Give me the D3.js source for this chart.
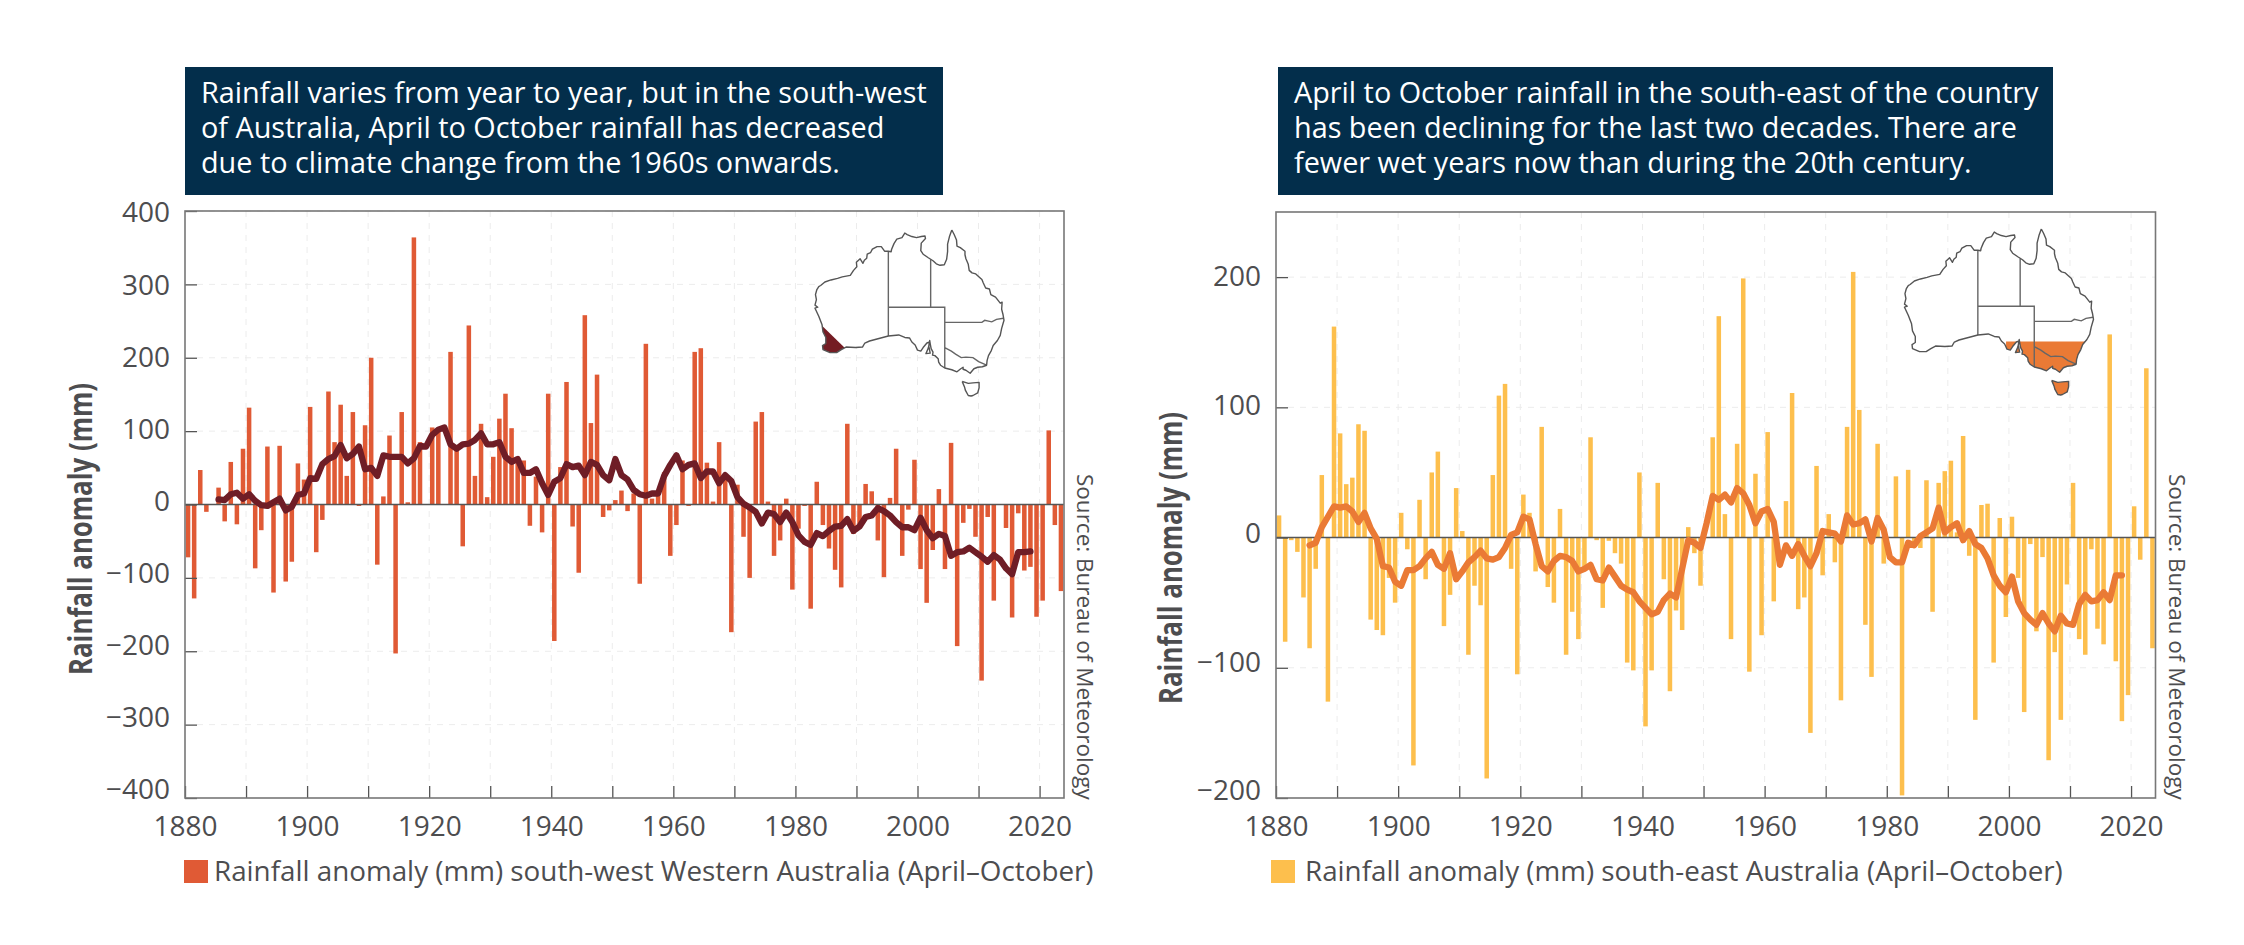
<!DOCTYPE html>
<html>
<head>
<meta charset="utf-8">
<script src="https://cdn.jsdelivr.net/npm/d3@7"></script>
<style>
  html, body { margin: 0; background: #fff; }
  svg { display: block; font-family: "Open Sans", sans-serif; }
</style>
</head>
<body>
<svg id="chart" width="2244" height="945"></svg>
<script>
// first year of each row is the decade start
const swBars = [
  -72,-128,47,-10,0,23,-23,58,-27,76,
  132,-87,-35,79,-120,80,-105,-78,56,34,
  133,-65,-21,154,85,136,39,126,-2,108,
  200,-82,11,94,-203,126,3,364,85,0,
  105,100,0,208,74,-57,244,39,110,10,
  65,117,151,104,65,60,-29,38,-38,151,
  -186,51,167,-30,-93,258,111,177,-17,-8,
  6,19,-9,15,-108,219,8,15,44,-70,
  -28,60,-2,208,213,57,4,85,40,-174,
  27,-44,-100,113,126,4,-70,-49,8,-116,
  -33,-2,-142,31,-28,-60,-89,-113,110,-40,
  -30,28,18,-49,-99,9,76,-70,-7,61,
  -88,-134,-62,21,-88,84,-193,-25,-6,-44,
  -240,-17,-131,0,-32,-154,-12,-90,-85,-153,
  -131,101,-28,-118
];
// running mean, 1885 to 2018
const swLine = [
  7,6,14,16,8,
  14,5,-1,-2,3,8,-8,-3,13,15,
  36,35,55,62,66,81,63,69,79,48,
  50,39,67,65,65,65,56,63,80,79,
  95,102,105,82,76,82,83,88,97,82,
  82,85,65,58,62,43,43,48,29,13,
  31,36,55,51,53,40,58,54,40,33,
  62,40,34,20,14,12,15,15,39,54,
  67,48,54,56,36,45,45,29,40,32,
  10,1,-4,-10,-26,-11,-13,-24,-11,-24,
  -42,-51,-55,-39,-43,-36,-30,-29,-20,-36,
  -30,-17,-15,-5,-9,-15,-24,-31,-31,-35,
  -18,-35,-46,-40,-43,-70,-65,-64,-59,-65,
  -71,-78,-69,-75,-87,-95,-65,-65,-64
];
const seBars = [
  17,-80,-2,-11,-46,-85,-24,48,-126,162,
  80,41,46,87,82,-63,-71,-75,-31,-50,
  19,-9,-175,29,-32,50,66,-68,-44,38,
  5,-90,-37,-52,-185,48,109,118,-24,-105,
  33,19,-26,85,-38,-50,22,-90,-57,-78,
  -25,77,-2,-54,-2.5,-12,-20,-96,-102,50,
  -145,-102,42,-32,-118,-56,-71,8,-12,-37,
  0,77,170,18,-78,72,199,-103,49,-75,
  81,-49,0,28,111,-55,-46,-150,55,-29,
  18,-19,-125,85,204,98,-67,-107,72,-20,
  0,47,-198,52,-5,-8,44,-57,42,51,
  59,4,78,-14,-140,25,26,-96,15,-61,
  16,-31,-134,-5,-72,-15,-171,-88,-140,-36,
  42,-78,-90,-9,-70,-82,156,-95,-141,-121,
  24,-17,130,-85
];
const seLine = [
  -6,-4,8,16,24,
  23,24,20,12,19,7,-1,-22,-23,-34,
  -37,-25,-25,-22,-16,-11,-21,-24,-12,-32,
  -26,-19,-15,-10,-16,-17,-15,-8,2,4,
  16,14,-5,-22,-26,-18,-14,-15,-18,-26,
  -24,-21,-32,-33,-23,-30,-37,-40,-42,-49,
  -54,-59,-57,-48,-43,-46,-24,-2,-4,-8,
  11,32,29,33,27,38,34,25,11,20,
  22,12,-21,-6,-14,-5,-14,-22,-12,5,
  4,3,-3,17,10,11,14,-3,15,6,
  -15,-19,-19,-4,-6,1,4,7,23,4,
  8,11,-2,5,-5,-8,-16,-29,-37,-42,
  -30,-49,-58,-63,-67,-58,-66,-72,-60,-66,
  -67,-51,-44,-49,-48,-42,-48,-29,-29
];

const xTicks = d3.range(1880, 2021, 10);
const swYTicks = [-400,-300,-200,-100,0,100,200,300,400];
const seYTicks = [-200,-100,0,100,200];

const swTitle = [
  "Rainfall varies from year to year, but in the south-west",
  "of Australia, April to October rainfall has decreased",
  "due to climate change from the 1960s onwards."
];
const seTitle = [
  "April to October rainfall in the south-east of the country",
  "has been declining for the last two decades. There are",
  "fewer wet years now than during the 20th century."
];
const swLegend = "Rainfall anomaly (mm) south-west Western Australia (April–October)";
const seLegend = "Rainfall anomaly (mm) south-east Australia (April–October)";
const yLabel = "Rainfall anomaly (mm)";
const source = "Source: Bureau of Meteorology";

// map outlines, lon/lat
const mainland = [
  [142.5,-10.7],[143.0,-11.6],[143.5,-12.7],[143.6,-13.9],[144.3,-14.2],[145.3,-14.9],[145.3,-15.6],
  [145.5,-16.4],[146.0,-17.5],[146.2,-18.7],[146.8,-19.2],[147.6,-19.4],[148.3,-20.0],[148.9,-20.5],
  [149.2,-21.2],[149.7,-22.2],[150.5,-22.4],[150.8,-23.5],[151.8,-24.0],[152.8,-25.2],[153.2,-25.0],
  [153.1,-26.4],[153.4,-27.5],[153.6,-28.6],[153.1,-30.2],[152.8,-31.6],[152.2,-32.6],[151.3,-33.6],
  [150.9,-34.6],[150.3,-35.6],[150.0,-36.6],[149.9,-37.5],[149.0,-37.8],[148.0,-37.9],[147.2,-38.2],
  [146.4,-39.1],[145.5,-38.5],[144.9,-38.3],[144.9,-37.9],[144.4,-38.2],[143.6,-38.8],[142.5,-38.4],
  [141.0,-38.05],[140.1,-37.5],[139.7,-36.9],[139.6,-36.2],[138.9,-35.6],[138.4,-35.5],[138.5,-34.9],
  [138.1,-34.2],[137.9,-33.2],[137.8,-32.6],[137.6,-33.7],[137.9,-35.1],[137.0,-35.2],[137.5,-34.1],
  [137.8,-32.9],[137.2,-33.1],[136.4,-34.0],[135.9,-34.7],[135.2,-34.5],[134.7,-33.5],[134.0,-32.9],
  [133.5,-32.1],[132.5,-32.0],[131.2,-31.5],[129.0,-31.7],[127.0,-32.2],[125.0,-32.7],[124.0,-33.1],
  [123.5,-33.9],[122.0,-34.0],[120.0,-33.9],[119.0,-34.4],[118.0,-35.0],[116.6,-35.0],[115.1,-34.4],
  [115.0,-33.6],[115.7,-33.2],[115.7,-32.0],[115.1,-30.9],[114.9,-29.5],[114.2,-27.8],[113.4,-26.2],
  [114.0,-26.0],[113.4,-25.6],[113.7,-24.5],[113.5,-23.5],[113.8,-22.5],[114.2,-21.9],[114.6,-21.7],
  [115.5,-21.0],[116.8,-20.6],[118.2,-20.3],[119.2,-20.0],[120.9,-19.7],[121.6,-18.7],[122.3,-18.0],
  [122.2,-17.1],[123.0,-16.4],[123.6,-17.3],[123.9,-16.7],[124.4,-16.3],[124.5,-15.5],[125.2,-15.2],
  [125.6,-14.5],[126.6,-14.0],[127.5,-14.0],[128.2,-14.9],[129.0,-14.9],[129.6,-15.0],[129.7,-14.5],
  [130.2,-13.4],[130.8,-12.5],[131.9,-12.2],[132.5,-11.3],[133.0,-11.6],[134.0,-12.0],[135.0,-12.2],
  [136.0,-12.0],[136.8,-11.9],[136.9,-12.4],[136.0,-13.3],[135.9,-14.8],[136.4,-15.5],[137.5,-16.2],
  [138.5,-16.8],[139.2,-17.4],[140.0,-17.7],[140.9,-17.6],[141.4,-16.5],[141.6,-15.0],[141.6,-13.5],
  [142.0,-12.0],[142.5,-10.7]
];
const tasmania = [
  [144.7,-40.7],[146.0,-41.1],[147.0,-41.0],[148.3,-40.9],[148.3,-42.0],[148.0,-43.0],[147.0,-43.5],
  [146.6,-43.6],[146.0,-43.5],[145.4,-42.5],[145.2,-41.8],[144.7,-40.7]
];
const borders = [
  [[129,-14.9],[129,-31.7]],
  [[138,-16.55],[138,-26]],
  [[129,-26],[141,-26],[141,-38.05]],
  [[141,-29],[148.9,-29],[149.5,-28.6],[151,-28.9],[152,-28.4],[153.5,-28.2]],
  [[141,-34],[142.4,-34.7],[143.3,-35.3],[144.5,-36],[145.5,-35.9],[147,-36],[148.2,-36.8],[149.9,-37.5]]
];
const swRegion = [[112,-28.6],[114.9,-29.7],[120.2,-34.46],[120.2,-36],[112,-36],[112,-28.6]];
const seRegion = [[135,-33],[155,-33],[155,-45],[135,-45],[135,-33]];

const svg = d3.select("#chart");
const textColor = "#4d4d4f";

function drawPanel(o) {
  const g = svg.append("g");
  const x = d3.scaleLinear().domain([1880, 2024]).range([o.left, o.right]);
  const y = d3.scaleLinear().domain(o.yDomain).range([o.bottom, o.top]);
  const years = d3.range(1880, 2024);
  const band = d3.scaleBand().domain(years).range([o.left, o.right]).paddingInner(0.26).paddingOuter(0.13);
  const mid = d => band(d) + band.bandwidth() / 2;
  // tick labels sit a little tighter than the ticks themselves
  const labelY = d3.scaleLinear().domain(o.labelDomain).range(o.labelRange);

  // grid
  g.append("g").selectAll("line").data(o.yTicks.filter(d => d !== 0 && d !== o.yDomain[0])).join("line")
    .attr("x1", o.left + 12).attr("x2", o.right)
    .attr("y1", d => y(d)).attr("y2", d => y(d))
    .attr("stroke", "#ececec").attr("stroke-width", 1).attr("stroke-dasharray", "6 6");
  g.append("g").selectAll("line").data(xTicks.slice(1)).join("line")
    .attr("x1", d => x(d)).attr("x2", d => x(d))
    .attr("y1", o.top).attr("y2", o.bottom - 12)
    .attr("stroke", "#ececec").attr("stroke-width", 1).attr("stroke-dasharray", "6 6");

  // bars
  g.append("g").selectAll("rect").data(o.bars).join("rect")
    .attr("x", (d, i) => band(years[i]))
    .attr("width", band.bandwidth())
    .attr("y", d => Math.min(y(d), y(0)))
    .attr("height", d => Math.abs(y(d) - y(0)))
    .attr("fill", o.barColor);

  // zero line
  g.append("line")
    .attr("x1", o.left).attr("x2", o.right)
    .attr("y1", y(0)).attr("y2", y(0))
    .attr("stroke", "#555").attr("stroke-width", 1.5);

  // running mean
  g.append("path")
    .datum(o.line)
    .attr("fill", "none")
    .attr("stroke", o.lineColor)
    .attr("stroke-width", 6.3)
    .attr("stroke-linejoin", "round")
    .attr("stroke-linecap", "round")
    .attr("d", d3.line().x((d, i) => mid(1885 + i)).y(d => y(d)));

  // axes
  const xAxis = d3.axisBottom(x).tickValues(xTicks)
    .tickFormat(d => d % 20 === 0 ? d : "")
    .tickSize(-12).tickPadding(18.5);
  const yAxis = d3.axisLeft(y).tickValues(o.yTicks)
    .tickFormat(d => String(d).replace("-", "−"))
    .tickSize(-12).tickPadding(15);
  const xG = g.append("g").attr("transform", `translate(0,${o.bottom})`).call(xAxis);
  const yG = g.append("g").attr("transform", `translate(${o.left},0)`).call(yAxis);
  yG.selectAll(".tick text").attr("y", d => labelY(d) - y(d));
  [xG, yG].forEach(a => {
    a.select(".domain").remove();
    a.selectAll("line").attr("stroke", "#555").attr("stroke-width", 1.3);
    a.selectAll("text").attr("fill", textColor).attr("font-size", 28).attr("font-family", '"Open Sans", sans-serif');
  });

  // frame
  g.append("rect")
    .attr("x", o.left).attr("y", o.top)
    .attr("width", o.right - o.left).attr("height", o.bottom - o.top)
    .attr("fill", "none").attr("stroke", "#777").attr("stroke-width", 1.6);

  // title box
  g.append("rect")
    .attr("x", o.boxX).attr("y", 67).attr("width", o.boxW).attr("height", 128)
    .attr("fill", "#032e4b");
  g.append("g").selectAll("text").data(o.title).join("text")
    .attr("x", o.boxX + 16)
    .attr("y", (d, i) => 103 + i * 35)
    .attr("fill", "#fff")
    .attr("font-size", 28.8)
    .text(d => d);

  // y label
  g.append("text")
    .attr("transform", `translate(${o.yLabelX},${o.yLabelY}) rotate(-90)`)
    .attr("text-anchor", "middle")
    .attr("font-size", 33)
    .attr("font-weight", 700)
    .attr("textLength", 292)
    .attr("lengthAdjust", "spacingAndGlyphs")
    .attr("fill", textColor)
    .text(yLabel);

  // source
  g.append("text")
    .attr("transform", `translate(${o.right + 13},474) rotate(90)`)
    .attr("font-size", 22.5)
    .attr("fill", textColor)
    .text(source);

  // legend
  g.append("rect")
    .attr("x", o.legendX).attr("y", 860).attr("width", 24).attr("height", 23)
    .attr("fill", o.barColor);
  g.append("text")
    .attr("x", o.legendTextX).attr("y", 881)
    .attr("font-size", 27.8)
    .attr("fill", textColor)
    .text(o.legend);

  // map, plain lon/lat scales fitted to the inset box
  const mapX = d3.scaleLinear().domain([113.4, 153.6]).range(o.mapX);
  const mapY = d3.scaleLinear().domain([-10.7, -43.6]).range(o.mapY);
  const path = d3.geoPath(d3.geoTransform({
    point(lon, lat) { this.stream.point(mapX(lon), mapY(lat)); }
  }));
  const land = {type: "MultiLineString", coordinates: [mainland, tasmania]};
  g.append("clipPath").attr("id", o.id + "-clip")
    .append("path").attr("d", path(land));
  g.append("path").attr("d", path(land)).attr("fill", "#fff").attr("stroke", "none");
  g.append("path")
    .attr("d", path({type: "LineString", coordinates: o.region}))
    .attr("fill", o.regionColor)
    .attr("clip-path", `url(#${o.id}-clip)`);
  g.append("path")
    .attr("d", path({type: "MultiLineString", coordinates: borders}))
    .attr("fill", "none").attr("stroke", "#666").attr("stroke-width", 1.4);
  g.append("path")
    .attr("d", path(land))
    .attr("fill", "none").attr("stroke", "#555").attr("stroke-width", 1.4).attr("stroke-linejoin", "round");
}

drawPanel({
  id: "sw", left: 185, right: 1064, top: 211, bottom: 798,
  yDomain: [-400, 400], yTicks: swYTicks,
  labelDomain: [-400, 400], labelRange: [790, 213],
  bars: swBars, line: swLine, barColor: "#e05a35", lineColor: "#6f1d26",
  boxX: 185, boxW: 758, title: swTitle, yLabelX: 92, yLabelY: 529,
  legendX: 184, legendTextX: 214, legend: swLegend,
  mapX: [815, 1004], mapY: [230, 396], region: swRegion, regionColor: "#741c23"
});
drawPanel({
  id: "se", left: 1276, right: 2155.5, top: 212, bottom: 798,
  yDomain: [-200, 250], yTicks: seYTicks,
  labelDomain: [-200, 200], labelRange: [791, 277],
  bars: seBars, line: seLine, barColor: "#fdbf4d", lineColor: "#ea7a35",
  boxX: 1278, boxW: 775, title: seTitle, yLabelX: 1182, yLabelY: 558,
  legendX: 1271, legendTextX: 1305, legend: seLegend,
  mapX: [1904.5, 2093.5], mapY: [229, 395], region: seRegion, regionColor: "#ea7a35"
});
</script>
</body>
</html>
